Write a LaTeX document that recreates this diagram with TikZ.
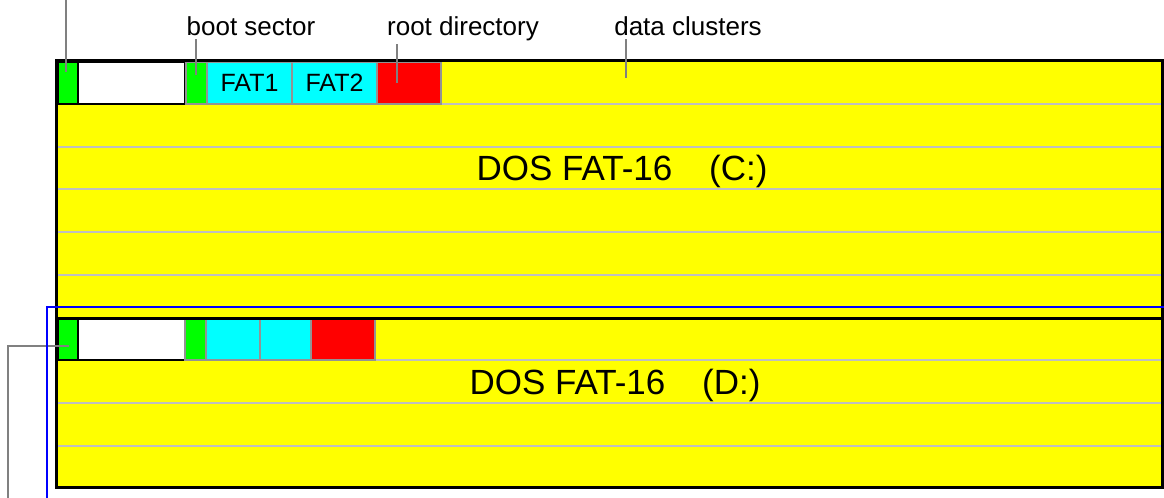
\documentclass[tikz,border=0pt]{standalone}
\usepackage{fontspec}
\setmainfont{Liberation Sans}
\definecolor{fatcyan}{RGB}{0,255,255}
\definecolor{datayellow}{RGB}{255,255,0}
\definecolor{bootgreen}{RGB}{0,255,0}
\definecolor{dirred}{RGB}{255,0,0}
\definecolor{extblue}{RGB}{0,0,255}

\begin{document}
\begin{tikzpicture}[x=0.5pt,y=-0.5pt]
\tikzstyle{every node}+=[inner sep=0pt, outer sep=0pt]
\tikzstyle{cell}=[draw=gray!85, line width=0.75pt, anchor=north west, font=\fontsize{12.5}{14}\selectfont]
\tikzstyle{mbr}=[cell, draw=black]
\tikzstyle{row}=[draw=lightgray, line width=0.75pt]
\tikzstyle{leader}=[draw=gray, line width=0.75pt]
\tikzstyle{tag}=[anchor=base, inner sep=2pt, font=\fontsize{13}{15}\selectfont]
\tikzstyle{frame}=[draw=black, line width=1.5pt]
\tikzstyle{title}=[font=\fontsize{17.5}{20}\selectfont]
\useasboundingbox (0,0) rectangle (1164,498);
% partition C:
\fill [datayellow] (56.5,60.5) rectangle (1162.5,318);
\foreach \y in {104,147,189,232,275} \draw [row] (58,\y) -- (1161,\y);
\node [mbr, fill=bootgreen, minimum width=10pt, minimum height=21pt] (mbrC) at (58,62) {};
\node [mbr, fill=white, minimum width=53.5pt, minimum height=21pt] (ptC) at (78,62) {};
\node [cell, fill=bootgreen, minimum width=10.5pt, minimum height=21pt] (bootC) at (186,62) {};
\node [cell, fill=fatcyan, minimum width=42.5pt, minimum height=21pt] (fat1C) at (207,62) {FAT1};
\node [cell, fill=fatcyan, minimum width=42.5pt, minimum height=21pt] (fat2C) at (292,62) {FAT2};
\node [cell, fill=dirred, minimum width=32pt, minimum height=21pt] (rootC) at (377,62) {};
\node [title] (fsC) at (622,171) {DOS FAT-16\hspace{1.05em}(C:)};
% partition D:
\fill [datayellow] (56.5,318) rectangle (1162.5,487.5);
\foreach \y in {360,403,446} \draw [row] (58,\y) -- (1161,\y);
\node [mbr, fill=bootgreen, minimum width=10pt, minimum height=20.5pt] (mbrD) at (58,319) {};
\node [mbr, fill=white, minimum width=53.5pt, minimum height=20.5pt] (ptD) at (78,319) {};
\node [cell, fill=bootgreen, minimum width=10.5pt, minimum height=20.5pt] (bootD) at (185,319) {};
\node [cell, fill=fatcyan, minimum width=27pt, minimum height=20.5pt] (fat1D) at (206,319) {};
\node [cell, fill=fatcyan, minimum width=25.5pt, minimum height=20.5pt] (fat2D) at (260,319) {};
\node [cell, fill=dirred, minimum width=32pt, minimum height=20.5pt] (rootD) at (311,319) {};
\node [title] (fsD) at (615,385) {DOS FAT-16\hspace{1.05em}(D:)};
\draw [frame] (56.5,60.5) rectangle (1162.5,318);
\draw [frame] (56.5,318) rectangle (1162.5,487.5);
% labels and leaders
\node [tag] (bootlbl) at (251,35) {boot sector};
\node [tag] (rootlbl) at (463,35) {root directory};
\node [tag] (datalbl) at (688,35) {data clusters};
\coordinate (toppt) at (66,0);
\coordinate (mbrCpt) at (66,72);
\coordinate (bootpt) at (196,75);
\coordinate (rootpt) at (397,83);
\coordinate (datapt) at (626,78);
\coordinate (mbrDpt) at (69,346);
\coordinate (botpt) at (8,498);
\draw [leader] (toppt) -- (mbrCpt);
\draw [leader] (bootpt |- bootlbl.south) -- (bootpt);
\draw [leader] (rootpt |- rootlbl.south) -- (rootpt);
\draw [leader] (datapt |- datalbl.south) -- (datapt);
\draw [leader] (mbrDpt) -| (botpt);
% extended partition
\coordinate (ext1) at (47,498);
\coordinate (ext2) at (1164,307);
\draw [extblue, line width=0.75pt] (ext1) |- (ext2);
\end{tikzpicture}
\end{document}
